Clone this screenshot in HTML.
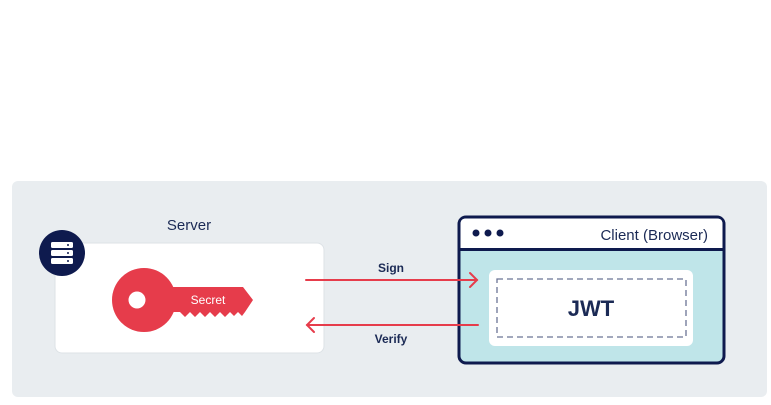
<!DOCTYPE html>
<html><head><meta charset="utf-8"><style>
html,body{margin:0;padding:0;background:#fff;}
svg{display:block;font-family:"Liberation Sans",sans-serif;}
</style></head><body>
<svg width="771" height="405" viewBox="0 0 771 405" xmlns="http://www.w3.org/2000/svg">
<rect x="12" y="181" width="755" height="216" rx="6" fill="#e9edf0"/>
<text x="189" y="230" font-size="15" fill="#1b2a55" text-anchor="middle">Server</text>
<rect x="55" y="243" width="269" height="110" rx="7" fill="#fff" stroke="#dde2e6" stroke-width="1"/>
<circle cx="62" cy="253" r="23" fill="#0e1a4e"/>
<g fill="#fff">
<rect x="51" y="242" width="22" height="6" rx="1.5"/>
<rect x="51" y="250" width="22" height="6" rx="1.5"/>
<rect x="51" y="258" width="22" height="6" rx="1.5"/>
</g>
<g fill="#0e1a4e"><circle cx="68" cy="245" r="1"/><circle cx="68" cy="253" r="1"/><circle cx="68" cy="261" r="1"/></g>
<g fill="#e63c4b">
<circle cx="144" cy="300" r="32"/>
<path d="M165 287 L243 287 L253 300 L245 312 L242 316 L238 312 L234 316 L230 312 L225 317 L220 312 L215 317 L210 312 L205 317 L200 312 L195 317 L190 312 L185 317 L180 312 L165 312 Z"/>
</g>
<circle cx="137" cy="300" r="8.5" fill="#fff"/>
<text x="208" y="304" font-size="12" fill="#fff" text-anchor="middle">Secret</text>
<text x="391" y="272" font-size="12" font-weight="bold" fill="#1b2a55" text-anchor="middle">Sign</text>
<text x="391" y="343" font-size="12" font-weight="bold" fill="#1b2a55" text-anchor="middle">Verify</text>
<rect x="459" y="217" width="265" height="146" rx="7" fill="#bfe5e9" stroke="#0e1a4e" stroke-width="3"/>
<path d="M460.5 249 L460.5 224 Q460.5 218.5 466 218.5 L717 218.5 Q722.5 218.5 722.5 224 L722.5 249 Z" fill="#fff"/>
<line x1="459" y1="249.5" x2="724" y2="249.5" stroke="#0e1a4e" stroke-width="3"/>
<g fill="#0e1a4e"><circle cx="476" cy="233" r="3.5"/><circle cx="488" cy="233" r="3.5"/><circle cx="500" cy="233" r="3.5"/></g>
<text x="708" y="240" font-size="15" fill="#1b2a55" text-anchor="end">Client (Browser)</text>
<rect x="489" y="270" width="204" height="76" rx="6" fill="#fff"/>
<rect x="497" y="279" width="189" height="58" fill="none" stroke="#6b7494" stroke-width="1.3" stroke-dasharray="6,4"/>
<text x="591" y="316" font-size="22" font-weight="bold" fill="#1b2a55" text-anchor="middle">JWT</text>
<g stroke="#e63c4b" stroke-width="2" fill="none" stroke-linecap="round">
<line x1="306" y1="280" x2="477" y2="280"/>
<polyline points="470,273 477,280 470,287"/>
<line x1="307" y1="325" x2="478" y2="325"/>
<polyline points="314,318 307,325 314,332"/>
</g>
</svg>
</body></html>
